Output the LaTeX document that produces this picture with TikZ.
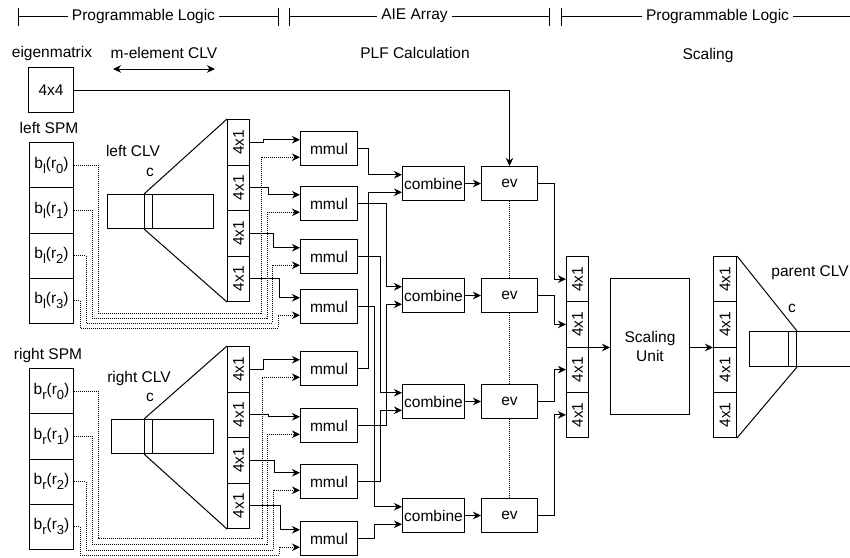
\documentclass[tikz,border=0pt]{standalone}
\usepackage{fontspec}
\setmainfont{Liberation Sans}
\usetikzlibrary{arrows.meta,calc}

% lowered, slightly smaller index letters for b_l(r_0) style labels
\newcommand{\lowsub}[1]{\raisebox{-0.32em}{\fontsize{13}{13}\selectfont #1}}

\begin{document}
\begin{tikzpicture}[x=1pt,y=-1pt,
  font=\fontsize{15.5}{18}\selectfont,
  line width=1pt,
  blk/.style={draw, rectangle, inner sep=0pt, anchor=north west},
  mm/.style={blk, minimum width=57pt, minimum height=34pt},
  cb/.style={blk, minimum width=62pt, minimum height=34pt},
  evbox/.style={blk, minimum width=56pt, minimum height=34pt},
  cell/.style={blk, minimum width=22pt, minimum height=45.5pt},
  pcell/.style={blk, minimum width=22pt, minimum height=45.25pt},
  spm/.style={blk, minimum width=44pt, minimum height=45.25pt},
  tip/.tip={Stealth[length=8pt,width=7.5pt,inset=2.5pt]},
  arr/.style={-tip},
  dots/.style={line width=0.9pt, dash pattern=on 1pt off 1pt},
  lbl/.style={inner sep=0pt}
]
\useasboundingbox (0,0) rectangle (850,557);

% ---------- header bars ----------
\draw (18,8) -- (18,26) (18,16) -- (278,16) (278,8) -- (278,26);
\node[fill=white, inner xsep=4pt, inner ysep=1pt] (hdA) at (143.5,16) {Programmable Logic};
\draw (289,8) -- (289,26) (289,16) -- (549,16) (549,8) -- (549,26);
\node[fill=white, inner xsep=4pt, inner ysep=1pt] (hdB) at (414.5,16) {AIE Array};
\draw (561,8) -- (561,26) (561,16) -- (850,16);
\node[fill=white, inner xsep=4pt, inner ysep=1pt] (hdC) at (717.5,16) {Programmable Logic};

% ---------- section titles ----------
\node[lbl] (tEig) at (52,53) {eigenmatrix};
\node[lbl] (tMel) at (164,53) {m-element CLV};
\node[lbl] (tPLF) at (415,53) {PLF Calculation};
\node[lbl] (tScl) at (708,55) {Scaling};
\coordinate (dA) at (113,69);
\coordinate (dB) at (215,69);
\draw[tip-tip] (dA) -- (dB);

% ---------- eigenmatrix ----------
\node[blk, minimum width=45pt, minimum height=45pt] (EM) at (28,67) {4x4};

% ---------- left SPM ----------
\node[lbl] (tLS) at (49,128) {left SPM};
\node[spm] (S1) at (29,142)    {b\lowsub{l}(r\lowsub{0})};
\node[spm] (S2) at (29,187.25) {b\lowsub{l}(r\lowsub{1})};
\node[spm] (S3) at (29,232.5)  {b\lowsub{l}(r\lowsub{2})};
\node[spm] (S4) at (29,277.75) {b\lowsub{l}(r\lowsub{3})};

% ---------- right SPM ----------
\node[lbl] (tRS) at (48,355) {right SPM};
\node[spm] (T1) at (29,368)    {b\lowsub{r}(r\lowsub{0})};
\node[spm] (T2) at (29,413.25) {b\lowsub{r}(r\lowsub{1})};
\node[spm] (T3) at (29,458.5)  {b\lowsub{r}(r\lowsub{2})};
\node[spm] (T4) at (29,503.75) {b\lowsub{r}(r\lowsub{3})};

% ---------- left CLV ----------
\node[lbl] (tLC) at (133,151) {left CLV};
\node[lbl] (tLc) at (150,172) {c};
\node[blk, minimum width=106pt, minimum height=34pt] (LR) at (107,194) {};
\node[blk, minimum width=8pt, minimum height=34pt] (LN) at (144,194) {};
\node[cell] (L1) at (227,119)   {\rotatebox{90}{4x1}};
\node[cell] (L2) at (227,164.5) {\rotatebox{90}{4x1}};
\node[cell] (L3) at (227,210)   {\rotatebox{90}{4x1}};
\node[cell] (L4) at (227,255.5) {\rotatebox{90}{4x1}};
\draw (LN.north west) -- (L1.north west);
\draw (LN.south west) -- (L4.south west);

% ---------- right CLV ----------
\node[lbl] (tRC) at (139,378) {right CLV};
\node[lbl] (tRc) at (150,397) {c};
\node[blk, minimum width=102pt, minimum height=34pt] (RR) at (111,419) {};
\node[blk, minimum width=8pt, minimum height=34pt] (RN) at (144,419) {};
\node[cell] (R1) at (227,346)   {\rotatebox{90}{4x1}};
\node[cell] (R2) at (227,391.5) {\rotatebox{90}{4x1}};
\node[cell] (R3) at (227,437)   {\rotatebox{90}{4x1}};
\node[cell] (R4) at (227,482.5) {\rotatebox{90}{4x1}};
\draw (RN.north west) -- (R1.north west);
\draw (RN.south west) -- (R4.south west);

% ---------- mmul kernels ----------
\node[mm] (M1) at (300,131) {mmul};
\node[mm] (M2) at (300,186) {mmul};
\node[mm] (M3) at (300,239) {mmul};
\node[mm] (M4) at (300,289) {mmul};
\node[mm] (M5) at (300,351) {mmul};
\node[mm] (M6) at (300,408) {mmul};
\node[mm] (M7) at (300,464) {mmul};
\node[mm] (M8) at (300,521) {mmul};

% ---------- combine and ev kernels ----------
\node[cb] (C1) at (402,166) {combine};
\node[cb] (C2) at (402,278) {combine};
\node[cb] (C3) at (402,384) {combine};
\node[cb] (C4) at (402,498) {combine};
\node[evbox] (E1) at (481,166) {ev};
\node[evbox] (E2) at (481,278) {ev};
\node[evbox] (E3) at (481,384) {ev};
\node[evbox] (E4) at (481,498) {ev};

% two input ports on the left side of each kernel
\foreach \n in {M1,M2,M3,M4,M5,M6,M7,M8,C1,C2,C3,C4}{
  \coordinate (\n-hi) at ($(\n.north west)!.25!(\n.south west)$);
  \coordinate (\n-lo) at ($(\n.north west)!.75!(\n.south west)$);
}

% ---------- scaling stage ----------
\node[pcell] (P1) at (566,256)    {\rotatebox{90}{4x1}};
\node[pcell] (P2) at (566,301.25) {\rotatebox{90}{4x1}};
\node[pcell] (P3) at (566,346.5)  {\rotatebox{90}{4x1}};
\node[pcell] (P4) at (566,391.75) {\rotatebox{90}{4x1}};
\node[blk, minimum width=79pt, minimum height=136pt, align=center,
      font=\fontsize{15.5}{19}\selectfont] (SU) at (610,278) {Scaling\\Unit};
\node[blk, minimum width=23pt, minimum height=45.25pt] (Q1) at (713,256)    {\rotatebox{90}{4x1}};
\node[blk, minimum width=23pt, minimum height=45.25pt] (Q2) at (713,301.25) {\rotatebox{90}{4x1}};
\node[blk, minimum width=23pt, minimum height=45.25pt] (Q3) at (713,346.5)  {\rotatebox{90}{4x1}};
\node[blk, minimum width=23pt, minimum height=45.25pt] (Q4) at (713,391.75) {\rotatebox{90}{4x1}};

% ---------- parent CLV ----------
\node[lbl] (tPC) at (810,273) {parent CLV};
\node[lbl] (tPc) at (792,308) {c};
\coordinate (PRa) at (850,331);
\coordinate (PRb) at (850,366);
\draw (PRa) -- (749,331) -- (749,366) -- (PRb);
\node[blk, minimum width=8pt, minimum height=35pt] (PN) at (788,331) {};
\draw (Q1.north east) -- (PN.north east);
\draw (Q4.south east) -- (PN.south east);

% ---------- CLV slices into mmul ----------
\foreach \k/\d in {1/13,2/18,3/23,4/29}
  \draw[arr] (L\k.east) -- ++(\d,0) |- (M\k-hi);
\foreach \k/\m/\d in {1/5/13,2/6/18,3/7/24,4/8/30}
  \draw[arr] (R\k.east) -- ++(\d,0) |- (M\m-hi);

% ---------- SPM rows into mmul ----------
\foreach \k/\xl/\yb/\xr in {1/98/313/261, 2/92/318/267, 3/86/323/272, 4/80/328/278}
  \draw[dots,arr] (S\k.east) -| (\xl,\yb) -- (\xr,\yb) |- (M\k-lo);
\foreach \k/\m/\xl/\yb/\xr in {1/5/98/538/262, 2/6/92/544/267, 3/7/86/550/273, 4/8/80/555/279}
  \draw[dots,arr] (T\k.east) -| (\xl,\yb) -- (\xr,\yb) |- (M\m-lo);

% ---------- mmul into combine ----------
\foreach \m/\c/\p/\d in {1/1/hi/10, 5/1/lo/10, 2/2/hi/28, 6/2/lo/28,
                         3/3/hi/22, 7/3/lo/22, 4/4/hi/16, 8/4/lo/16}
  \draw[arr] (M\m.east) -- ++(\d,0) |- (C\c-\p);

% ---------- combine -> ev -> scaling input ----------
\foreach \k in {1,2,3,4}{
  \draw[arr] (C\k.east) -- (E\k.west);
  \draw[arr] (E\k.east) -- ++(16,0) |- (P\k.west);
}
\draw[dots] (E1.south) -- (E2.north);
\draw[dots] (E2.south) -- (E3.north);
\draw[dots] (E3.south) -- (E4.north);

% eigenmatrix feeds the first ev kernel
\draw[arr] (EM.east) -| (E1.north);

% scaling unit
\draw[arr] (P2.south east) -- (SU.west |- P2.south east);
\draw[arr] (SU.east |- Q2.south west) -- (Q2.south west);
\end{tikzpicture}
\end{document}
